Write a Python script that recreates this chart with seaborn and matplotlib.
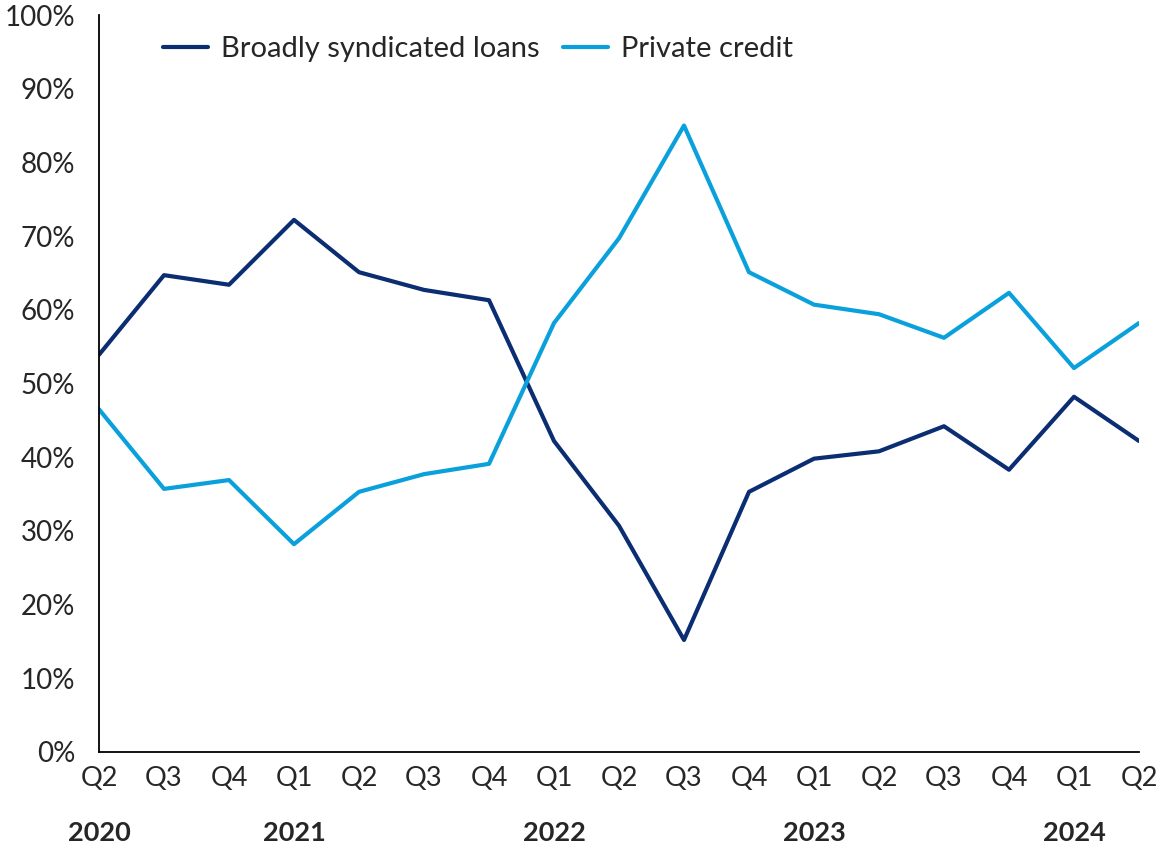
import matplotlib
matplotlib.use("Agg")
import matplotlib.pyplot as plt
import seaborn as sns
import pandas as pd

quarters = ["Q2", "Q3", "Q4", "Q1", "Q2", "Q3", "Q4", "Q1", "Q2", "Q3", "Q4",
            "Q1", "Q2", "Q3", "Q4", "Q1", "Q2"]
years = ["2020", "2021", "2022", "2023", "2024"]
year_positions = [0, 3, 7, 11, 15]
bsl = [53.9, 64.7, 63.4, 72.2, 65.1, 62.7, 61.3, 42.2, 30.7, 15.2, 35.3,
       39.8, 40.8, 44.2, 38.3, 48.2, 42.2]
pc = [46.5, 35.7, 36.9, 28.2, 35.3, 37.7, 39.1, 58.2, 69.7, 85.0, 65.1,
      60.7, 59.4, 56.2, 62.3, 52.1, 58.2]
series_names = ["Broadly syndicated loans", "Private credit"]

sns.set_theme(style="white")
plt.rcParams['font.family'] = ['Lato', 'DejaVu Sans']

idx = list(range(len(quarters)))
df = pd.DataFrame({
    "x": idx * 2,
    "value": bsl + pc,
    "series": [series_names[0]] * len(bsl) + [series_names[1]] * len(pc),
})

fig = plt.figure(figsize=(11.61, 8.46), dpi=100)
ax = fig.add_axes([99 / 1161, 1 - 752 / 846, (1139 - 99) / 1161, (752 - 15) / 846])
sns.lineplot(data=df, x="x", y="value", hue="series",
             palette=["#0B2D72", "#0AA0DC"], linewidth=3, ax=ax)

fs = 20
ax.set_xlim(0, len(quarters) - 1)
ax.set_ylim(0, 100)
ax.set_yticks(range(0, 101, 10))
ax.set_yticklabels([f"{v}%" for v in range(0, 101, 10)], fontsize=fs)
ax.set_xticks(idx)
ax.set_xticklabels(quarters, fontsize=19.5)
ax.tick_params(axis="x", length=0, pad=10)
ax.tick_params(axis="y", length=0, pad=17)
ax.set_xlabel("")
ax.set_ylabel("")
for s in ["top", "right"]:
    ax.spines[s].set_visible(False)
for s in ["left", "bottom"]:
    ax.spines[s].set_color("black")
    ax.spines[s].set_linewidth(1.3)

for pos, yr in zip(year_positions, years):
    ax.text(pos, -0.11, yr, transform=ax.get_xaxis_transform(),
            ha="center", va="center", fontsize=19.5, fontweight="bold")

leg = ax.legend(loc="upper left", bbox_to_anchor=(0.036, 1.007), ncol=2,
                frameon=False, fontsize=21, handlelength=1.55, columnspacing=0.8,
                handletextpad=0.45)
for line in leg.get_lines():
    line.set_linewidth(3)

fig.savefig("out.png", dpi=100)
